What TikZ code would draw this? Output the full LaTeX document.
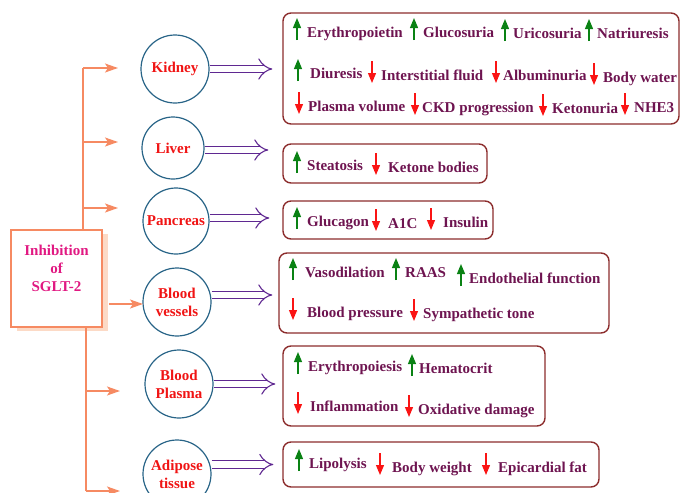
\documentclass[tikz,border=0pt]{standalone}
\usepackage{fontspec}
\setmainfont{Liberation Serif}
\usetikzlibrary{arrows.meta,calc,positioning,shadows}
\definecolor{coral}{RGB}{246,138,98}
\definecolor{peach}{RGB}{252,218,198}
\definecolor{rim}{RGB}{40,100,135}
\definecolor{organred}{RGB}{240,20,20}
\definecolor{pinkmag}{RGB}{225,25,130}
\definecolor{wine}{RGB}{140,45,45}
\definecolor{plum}{RGB}{110,20,80}
\definecolor{grape}{RGB}{95,40,145}
\definecolor{leaf}{RGB}{10,130,20}
\definecolor{drop}{RGB}{250,20,20}
\tikzset{
  >=stealth,
  line cap=round,
  line join=round,
  bigfont/.style={font=\bfseries\fontsize{15}{18}\selectfont},
  organ/.style={draw=rim, circle, line width=1.2pt, inner sep=0pt, minimum size=#1,
    text=organred, align=center, bigfont},
  organ/.default=68pt,
  mainbox/.style={draw=coral, fill=white, line width=1.5pt, align=center, text=pinkmag, bigfont,
    minimum width=91pt, minimum height=97pt, text depth=20pt,
    drop shadow={shadow xshift=6pt, shadow yshift=-4pt, fill=peach, opacity=1}},
  effbox/.style 2 args={draw=wine, rounded corners=8pt, line width=1.4pt,
    minimum width=#1, minimum height=#2, inner sep=0pt},
  effect/.style={anchor=base west, inner sep=0pt, text=plum, bigfont},
  rise/.style={draw=leaf, line width=1.2pt, -{Triangle[length=10pt, width=8pt]}},
  fall/.style={draw=drop, line width=1.2pt, {Triangle[length=10pt, width=8pt]}-},
  trunk/.style={draw=coral, line width=1.5pt},
  branch/.style={trunk, -{Stealth[length=13pt, width=9pt, inset=3pt]}},
  dbl/.style={draw=grape, double=white, double distance=6.5pt, line width=1.1pt, -{Implies}}
}
\begin{document}
\begin{tikzpicture}[x=1pt, y=-1pt]
  \useasboundingbox (0,0) rectangle (681,493);

  % source box
  \node[mainbox] (sglt) at (56.5,278.5) {Inhibition\\of\\SGLT-2};

  % organs
  \node[organ] (kid) at (175,69) {Kidney};
  \node[organ=62pt] (liv) at (173,148) {Liver};
  \node[organ=66pt] (pan) at (176,221) {Pancreas};
  \node[organ] (ves) at (177,302) {Blood\\vessels};
  \node[organ] (pla) at (179,384) {Blood\\Plasma};
  \node[organ] (adi) at (177,474) {Adipose\\tissue};

  % effect boxes
  \node[effbox={396pt}{111pt}] (kidbox) at (481,68.5) {};
  \node[effbox={204pt}{39pt}] (livbox) at (385,163.5) {};
  \node[effbox={210pt}{38pt}] (panbox) at (388,220) {};
  \node[effbox={330pt}{80pt}] (vesbox) at (444,293) {};
  \node[effbox={262pt}{80pt}] (plabox) at (414,386) {};
  \node[effbox={316pt}{45pt}] (adibox) at (441,464.5) {};

  % feeding lines
  \coordinate (topJ) at (83,68);
  \coordinate (botJ) at (86,491);
  \coordinate (kidTip) at (118,68);
  \coordinate (livTip) at (118,142);
  \coordinate (panTip) at (118,208);
  \coordinate (vesTip) at (143,304);
  \coordinate (plaTip) at (120,391);
  \coordinate (adiTip) at (120,491);

  \draw[trunk] (sglt.north -| topJ) -- (topJ);
  \draw[trunk] (sglt.south -| botJ) -- (botJ);
  \draw[branch] (topJ) -- (kidTip);
  \draw[branch] (topJ |- livTip) -- (livTip);
  \draw[branch] (topJ |- panTip) -- (panTip);
  \draw[branch] ([xshift=6pt]sglt.east |- vesTip) -- (vesTip);
  \draw[branch] (botJ |- plaTip) -- (plaTip);
  \draw[branch] (botJ) -- (adiTip);

  % organ to effects
  \draw[dbl] (kid.east) -- ([xshift=-10pt]kid.east -| kidbox.west);
  \draw[dbl] ([yshift=-2pt]liv.east) -- ([xshift=-14pt,yshift=-2pt]liv.east -| livbox.west);
  \draw[dbl] ([yshift=3pt]pan.east) -- ([xshift=-13pt,yshift=3pt]pan.east -| panbox.west);
  \draw[dbl] ([yshift=7pt]ves.east) -- ([xshift=-6pt,yshift=7pt]ves.east -| vesbox.west);
  \draw[dbl] (pla.east) -- ([xshift=-7pt]pla.east -| plabox.west);
  \draw[dbl] ([yshift=9.5pt]adi.east) -- ([xshift=-9pt,yshift=9.5pt]adi.east -| adibox.west);

  % effect lists: kind/arrow x/text x/baseline/text
  \foreach \s/\ax/\tx/\by/\txt [count=\i] in {
      rise/297/307/37/Erythropoietin, rise/414/423/37/Glucosuria,
      rise/505/513/38/Uricosuria, rise/589/597/38/Natriuresis,
      rise/298/310/78/Diuresis, fall/372/381/80/Interstitial fluid,
      fall/496/503/80/Albuminuria, fall/594/603/82/Body water,
      fall/299/308/111/Plasma volume, fall/415/422/112/CKD progression,
      fall/543/552/113/Ketonuria, fall/625/634/112/NHE3} {
    \node[effect] (kid-\i) at (\tx,\by) {\txt};
    \draw[\s] ($(kid-\i.base west)+(\ax-\tx,3)$) -- ++(0,-22);
  }
  \foreach \s/\ax/\tx/\by/\txt [count=\i] in {
      rise/297/307/170/Steatosis, fall/376/388/172/Ketone bodies} {
    \node[effect] (liv-\i) at (\tx,\by) {\txt};
    \draw[\s] ($(liv-\i.base west)+(\ax-\tx,3)$) -- ++(0,-22);
  }
  \foreach \s/\ax/\tx/\by/\txt [count=\i] in {
      rise/297/307/226/Glucagon, fall/376/388/228/A1C,
      fall/431/443/227/Insulin} {
    \node[effect] (pan-\i) at (\tx,\by) {\txt};
    \draw[\s] ($(pan-\i.base west)+(\ax-\tx,3)$) -- ++(0,-22);
  }
  \foreach \s/\ax/\tx/\by/\txt [count=\i] in {
      rise/293/305/277/Vasodilation, rise/396/405/277/RAAS,
      rise/461/469/283/Endothelial function,
      fall/293/307/317/Blood pressure, fall/414/423/318/Sympathetic tone} {
    \node[effect] (ves-\i) at (\tx,\by) {\txt};
    \draw[\s] ($(ves-\i.base west)+(\ax-\tx,3)$) -- ++(0,-22);
  }
  \foreach \s/\ax/\tx/\by/\txt [count=\i] in {
      rise/298/308/371/Erythropoiesis, rise/412/419/373/Hematocrit,
      fall/298/310/411/Inflammation, fall/409/418/414/Oxidative damage} {
    \node[effect] (pla-\i) at (\tx,\by) {\txt};
    \draw[\s] ($(pla-\i.base west)+(\ax-\tx,3)$) -- ++(0,-22);
  }
  \foreach \s/\ax/\tx/\by/\txt [count=\i] in {
      rise/299/309/468/Lipolysis, fall/380/392/472/Body weight,
      fall/486/498/472/Epicardial fat} {
    \node[effect] (adi-\i) at (\tx,\by) {\txt};
    \draw[\s] ($(adi-\i.base west)+(\ax-\tx,3)$) -- ++(0,-22);
  }
\end{tikzpicture}
\end{document}
